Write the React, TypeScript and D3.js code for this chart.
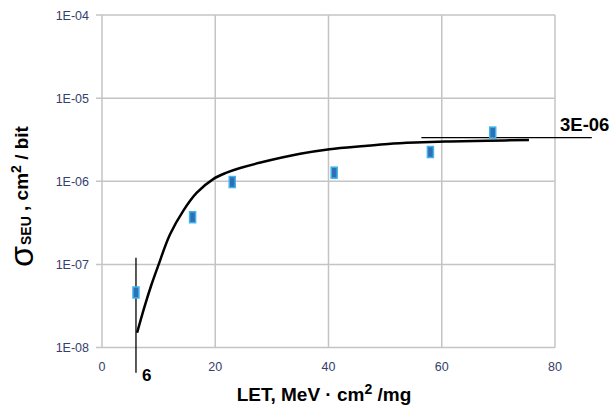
import React from "react";
import * as d3 from "d3";

const xTicks = [0, 20, 40, 60, 80];
const yTicks = [1e-8, 1e-7, 1e-6, 1e-5, 1e-4];
const yTickLabels = ["1E-08", "1E-07", "1E-06", "1E-05", "1E-04"];

const pointLET = [6, 16, 23, 41, 58, 69];
const pointSigma = [4.6e-8, 3.7e-7, 0.98e-6, 1.27e-6, 2.25e-6, 3.85e-6];

const fitLET = [6.2, 7.5, 8.7, 9.9, 12, 14.4, 16.7, 19.7, 22, 24.4, 28, 35, 40.2, 46.4, 50.5, 55.3, 61.4, 68.1, 75.4];
const fitSigma = [1.51e-8, 3.09e-8, 5.62e-8, 9.55e-8, 2.29e-7, 4.47e-7, 7.24e-7, 1.07e-6, 1.27e-6, 1.445e-6, 1.68e-6, 2.14e-6, 2.43e-6, 2.66e-6, 2.81e-6, 2.92e-6, 3.01e-6, 3.08e-6, 3.13e-6];

const thresholdLET = 6;
const thresholdRange = [5e-9, 1.2e-7];
const satSigma = 3.35e-6;
const satRange = [56.4, 86.5];

export default function App() {
  const W = 611, H = 408;
  const x = d3.scaleLinear().domain([0, 80]).range([102, 555]);
  const y = d3.scaleLog().domain([1e-8, 1e-4]).range([347.6, 15]);
  const line = d3
    .line<number>()
    .x((_, i) => x(fitLET[i]))
    .y((d) => y(d))
    .curve(d3.curveCatmullRom.alpha(0.5));
  const grid = "#c4c4c4";
  const tickFont = "'Liberation Sans', Arial, sans-serif";
  return (
    <svg width={W} height={H} style={{ position: "absolute", left: 0, top: 0, background: "#fff" }}>
      {/* grid */}
      {xTicks.map((t) => (
        <line key={"gx" + t} x1={x(t)} x2={x(t)} y1={y(1e-4)} y2={y(1e-8)} stroke={grid} strokeWidth={1.5} />
      ))}
      {yTicks.map((t) => (
        <line key={"gy" + t} x1={x(0) - 6} x2={x(80)} y1={y(t)} y2={y(t)} stroke={grid} strokeWidth={1.5} />
      ))}
      {yTicks.map((t, i) => (
        <text key={"ty" + t} x={89} y={y(t) + 4.5} textAnchor="end" fontFamily={tickFont} fontSize={12.5} fill="#34406a">
          {yTickLabels[i]}
        </text>
      ))}
      {xTicks.map((t) => (
        <text key={"tx" + t} x={x(t)} y={371} textAnchor="middle" fontFamily={tickFont} fontSize={12.5} fill="#34406a">
          {t}
        </text>
      ))}
      {/* fit curve */}
      <path d={line(fitSigma) || ""} fill="none" stroke="#000" strokeWidth={2.5} />
      {/* annotations */}
      <line x1={x(thresholdLET)} x2={x(thresholdLET)} y1={y(thresholdRange[1])} y2={y(thresholdRange[0])} stroke="#000" strokeWidth={1.3} />
      <line x1={x(satRange[0])} x2={x(satRange[1])} y1={y(satSigma)} y2={y(satSigma)} stroke="#000" strokeWidth={1.3} />
      <text x={142} y={381} fontFamily={tickFont} fontWeight="bold" fontSize={17} fill="#000">6</text>
      <text x={560} y={131} fontFamily={tickFont} fontWeight="bold" fontSize={18.5} fill="#000">3E-06</text>
      {/* points */}
      {pointLET.map((l, i) => (
        <rect key={"p" + i} x={x(l) - 3} y={y(pointSigma[i]) - 5.5} width={6} height={11} fill="#2e6fb5" stroke="#3fb3ea" strokeWidth={1.5} />
      ))}
      {/* axis titles */}
      <text x={324} y={401} textAnchor="middle" fontFamily={tickFont} fontWeight="bold" fontSize={19} fill="#000">
        LET, MeV · cm
        <tspan fontSize={14} dy={-7}>2</tspan>
        <tspan dy={7}> /mg</tspan>
      </text>
      <text transform="rotate(-90)" x={-267} y={28} fontFamily={tickFont} fontWeight="bold" fontSize={19} fill="#000">
        <tspan fontSize={34} dy={5} fontWeight="normal">σ</tspan>
        <tspan fontSize={14} dy={-2.3} dx={1}>SEU</tspan>
        <tspan dy={-2.7}> , cm</tspan>
        <tspan fontSize={14} dy={-7}>2</tspan>
        <tspan dy={7}> / bit</tspan>
      </text>
    </svg>
  );
}
